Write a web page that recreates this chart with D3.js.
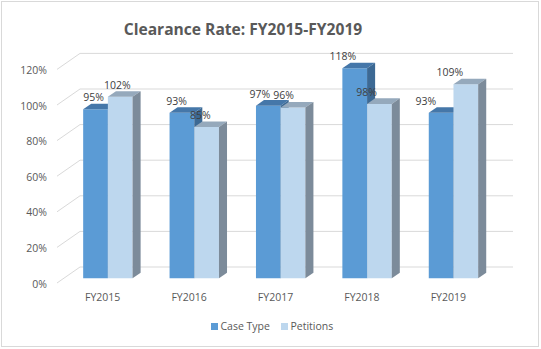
<!DOCTYPE html>
<html>
<head>
<meta charset="utf-8">
<script src="https://cdnjs.cloudflare.com/ajax/libs/d3/7.8.5/d3.min.js"></script>
<style>
  body { margin: 0; background: #fff; }
  text { font-family: "Open Sans", "Liberation Sans", sans-serif; }
</style>
</head>
<body>
<div id="chart"></div>
<script>
// data
var categories = ["FY2015", "FY2016", "FY2017", "FY2018", "FY2019"];
var seriesNames = ["Case Type", "Petitions"];
var caseType = [95, 93, 97, 118, 93];
var petitions = [102, 85, 96, 98, 109];
var yTicks = [0, 20, 40, 60, 80, 100, 120];

var W = 541, H = 349;

// look of each series: front, top, side
var colors = {
    "Case Type": { front: "#5B9BD5", top: "#4577A9", side: "#3C6994" },
    "Petitions": { front: "#BDD7EE", top: "#95A9BC", side: "#7C8B9A" }
};

var svg = d3.select("#chart").append("svg")
    .attr("width", W)
    .attr("height", H);

// chart border
svg.append("rect")
    .attr("x", 1.5).attr("y", 1.5)
    .attr("width", W - 4).attr("height", H - 4)
    .attr("fill", "#fff")
    .attr("stroke", "#d9d9d9");

// oblique depth of the walls
var DX = 23, DY = 16;
var zFront = 0.29, zBack = 0.64;

var x = d3.scaleBand().domain(categories).range([58, 490]);
var y = d3.scaleLinear().domain([0, 120]).range([283, 69.4]);
var groupW = 49.4;
var xs = d3.scaleBand().domain(seriesNames).range([0, groupW]);
var groupOff = (x.bandwidth() - groupW) / 2;

function proj(px, v, z) {
    return [px + z * DX, y(v) - z * DY];
}

var left = x.range()[0] - 1, right = x.range()[1];

// gridlines: diagonal on the side wall + back wall line
var grid = svg.append("g").attr("class", "grid");
yTicks.forEach(function(t) {
    var a = proj(left, t, 0), b = proj(left, t, 1), c = proj(right, t, 1);
    grid.append("path")
        .attr("d", "M" + a + "L" + b + "L" + c)
        .attr("fill", "none")
        .attr("stroke", "#d9d9d9")
        .attr("stroke-width", 1);
});

// y tick labels
svg.append("g").selectAll("text")
    .data(yTicks)
    .enter().append("text")
    .attr("x", 47)
    .attr("y", function(d) { return y(d) + 1; })
    .attr("dy", "0.35em")
    .attr("text-anchor", "end")
    .attr("font-size", 10.5)
    .attr("fill", "#595959")
    .text(function(d) { return d + "%"; });

// bars, left to right so front faces cover neighbouring sides
var rows = [];
categories.forEach(function(c, i) {
    rows.push({ cat: c, series: "Case Type", value: caseType[i] });
    rows.push({ cat: c, series: "Petitions", value: petitions[i] });
});

function poly(pts) { return "M" + pts.join("L") + "Z"; }

var bars = svg.append("g").selectAll("g")
    .data(rows)
    .enter().append("g");

bars.each(function(d) {
    var g = d3.select(this);
    var px = x(d.cat) + groupOff + xs(d.series);
    var w = xs.bandwidth();
    var col = colors[d.series];
    // front
    g.append("path")
        .attr("d", poly([proj(px, d.value, zFront), proj(px + w, d.value, zFront),
                         proj(px + w, 0, zFront), proj(px, 0, zFront)]))
        .attr("fill", col.front);
    // top
    g.append("path")
        .attr("d", poly([proj(px, d.value, zFront), proj(px + w, d.value, zFront),
                         proj(px + w, d.value, zBack), proj(px, d.value, zBack)]))
        .attr("fill", col.top);
    // side
    g.append("path")
        .attr("d", poly([proj(px + w, d.value, zFront), proj(px + w, d.value, zBack),
                         proj(px + w, 0, zBack), proj(px + w, 0, zFront)]))
        .attr("fill", col.side);
});

// value labels
svg.append("g").selectAll("text")
    .data(rows)
    .enter().append("text")
    .attr("x", function(d) {
        var cx = proj(x(d.cat) + groupOff + xs(d.series) + xs.bandwidth() / 2, 0, zFront)[0];
        return cx - 2 - (cx - 95) * 0.038;
    })
    .attr("y", function(d) { return proj(0, d.value, zBack)[1] - 2.5; })
    .attr("text-anchor", "middle")
    .attr("font-size", 10.5)
    .attr("fill", "#404040")
    .text(function(d) { return d.value + "%"; });

// category labels
svg.append("g").selectAll("text")
    .data(categories)
    .enter().append("text")
    .attr("x", function(d) { return x(d) + x.bandwidth() / 2 + 1.5; })
    .attr("y", 297)
    .attr("dy", "0.35em")
    .attr("text-anchor", "middle")
    .attr("font-size", 10.5)
    .attr("fill", "#595959")
    .text(function(d) { return d; });

// title
svg.append("text")
    .attr("x", 243)
    .attr("y", 35)
    .attr("text-anchor", "middle")
    .attr("font-size", 15.6)
    .attr("font-weight", "bold")
    .attr("fill", "#595959")
    .text("Clearance Rate: FY2015-FY2019");

// legend
var legendX = [211, 281];
var legend = svg.append("g").selectAll("g")
    .data(seriesNames)
    .enter().append("g")
    .attr("transform", function(d, i) { return "translate(" + legendX[i] + ",323)"; });

legend.append("rect")
    .attr("width", 7).attr("height", 7)
    .attr("fill", function(d) { return colors[d].front; });

legend.append("text")
    .attr("x", 9.5)
    .attr("y", 3.5)
    .attr("dy", "0.35em")
    .attr("font-size", 10.5)
    .attr("fill", "#595959")
    .text(function(d) { return d; });
</script>
</body>
</html>
